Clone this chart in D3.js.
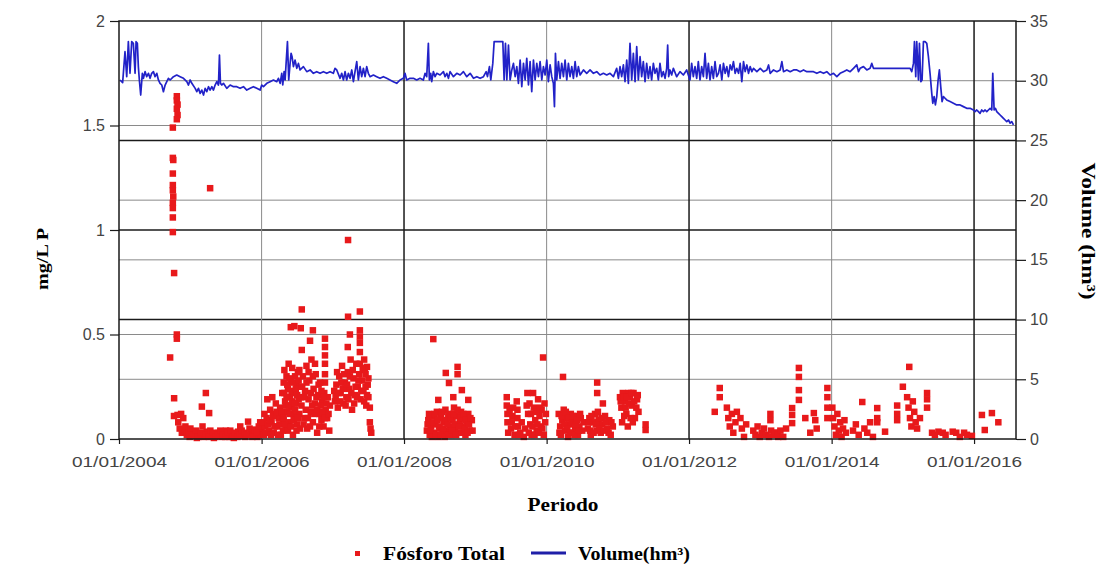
<!DOCTYPE html>
<html>
<head>
<meta charset="utf-8">
<script src="https://cdn.jsdelivr.net/npm/d3@7"></script>
<style>
  body { margin: 0; background: #fff; }
  svg { display: block; }
</style>
</head>
<body>
<svg id="chart" width="1104" height="577"></svg>
<script>
// ---- Data -------------------------------------------------------------
// Dates are stored as decimal years.
const xTickYears = [2004, 2006, 2008, 2010, 2012, 2014, 2016];
const leftTicks = [0, 0.5, 1, 1.5, 2];
const rightTicks = [0, 5, 10, 15, 20, 25, 30, 35];

// Reservoir volume (hm³)
const volume = [
  [2004.014,30.06],[2004.051,29.84],[2004.084,32.43],[2004.108,30.34],[2004.131,33.27],[2004.154,30.62],
  [2004.178,33.27],[2004.201,33.13],[2004.225,30.62],[2004.239,33.27],[2004.257,33.13],[2004.271,31.18],
  [2004.285,30.06],[2004.304,28.8],[2004.327,30.62],[2004.342,30.2],[2004.365,30.76],[2004.388,30.34],
  [2004.412,30.62],[2004.435,30.2],[2004.458,30.62],[2004.482,30.76],[2004.505,30.34],[2004.529,30.62],
  [2004.552,30.06],[2004.575,29.78],[2004.599,29.64],[2004.622,29.08],[2004.646,29.64],[2004.669,29.92],
  [2004.692,30.2],[2004.716,30.06],[2004.763,30.34],[2004.809,30.48],[2004.856,30.34],[2004.903,30.2],
  [2004.95,29.92],[2004.973,29.64],[2004.996,30.06],[2005.02,29.78],[2005.067,29.36],[2005.09,29.08],
  [2005.113,29.36],[2005.137,28.94],[2005.16,29.22],[2005.184,28.8],[2005.207,29.36],[2005.23,29.08],
  [2005.254,29.5],[2005.277,29.22],[2005.301,29.5],[2005.324,29.22],[2005.347,29.64],[2005.371,29.92],
  [2005.394,29.64],[2005.408,32.15],[2005.422,29.78],[2005.441,29.64],[2005.464,29.78],[2005.511,29.36],
  [2005.558,29.64],[2005.605,29.5],[2005.651,29.5],[2005.698,29.36],[2005.745,29.5],[2005.792,29.22],
  [2005.839,29.36],[2005.885,29.5],[2005.932,29.36],[2005.979,29.22],[2006.002,29.64],[2006.026,29.5],
  [2006.073,29.78],[2006.119,29.92],[2006.166,30.06],[2006.213,29.92],[2006.236,30.2],[2006.26,29.78],
  [2006.283,30.62],[2006.297,29.64],[2006.316,30.76],[2006.33,30.06],[2006.344,31.45],[2006.363,33.27],
  [2006.381,30.06],[2006.4,31.45],[2006.414,32.29],[2006.428,32.01],[2006.447,31.18],[2006.47,31.73],
  [2006.494,31.04],[2006.517,31.45],[2006.54,30.9],[2006.587,31.18],[2006.634,30.76],[2006.681,30.9],
  [2006.727,30.62],[2006.774,30.76],[2006.821,30.62],[2006.868,30.76],[2006.915,30.62],[2006.961,30.76],
  [2007.008,30.62],[2007.031,31.04],[2007.055,30.9],[2007.102,30.2],[2007.125,30.62],[2007.149,30.06],
  [2007.172,30.76],[2007.195,30.06],[2007.219,30.62],[2007.242,30.2],[2007.266,30.9],[2007.289,29.92],
  [2007.312,30.76],[2007.336,31.6],[2007.359,30.06],[2007.383,31.18],[2007.406,30.34],[2007.429,31.04],
  [2007.453,30.34],[2007.476,31.18],[2007.499,30.62],[2007.523,30.34],[2007.57,30.48],[2007.616,30.34],
  [2007.663,30.2],[2007.71,30.34],[2007.757,30.2],[2007.803,30.06],[2007.85,29.92],[2007.897,29.78],
  [2007.944,30.06],[2007.991,30.2],[2008.014,30.62],[2008.037,30.06],[2008.084,30.2],[2008.131,30.2],
  [2008.178,30.06],[2008.224,30.2],[2008.271,30.06],[2008.295,30.62],[2008.318,30.34],[2008.341,33.13],
  [2008.355,30.06],[2008.374,30.62],[2008.388,29.92],[2008.411,30.76],[2008.435,30.34],[2008.458,30.62],
  [2008.505,30.48],[2008.552,30.76],[2008.575,30.34],[2008.599,30.62],[2008.622,30.2],[2008.645,30.76],
  [2008.692,30.34],[2008.739,30.62],[2008.786,30.48],[2008.832,30.76],[2008.879,30.34],[2008.926,30.62],
  [2008.973,30.2],[2009.020,30.34],[2009.066,30.2],[2009.113,30.34],[2009.151,30.76],[2009.169,30.34],
  [2009.197,31.18],[2009.216,30.06],[2009.244,31.45],[2009.263,33.27],[2009.300,33.27],[2009.347,33.27],
  [2009.385,33.27],[2009.403,30.06],[2009.422,33.13],[2009.441,30.06],[2009.464,32.99],[2009.487,30.06],
  [2009.511,30.9],[2009.534,31.45],[2009.558,30.34],[2009.581,31.18],[2009.604,29.78],[2009.628,31.73],
  [2009.651,29.5],[2009.675,31.45],[2009.698,30.06],[2009.721,31.88],[2009.745,29.64],[2009.768,31.6],
  [2009.791,29.08],[2009.815,31.73],[2009.838,30.06],[2009.862,31.45],[2009.885,30.34],[2009.908,31.6],
  [2009.932,30.06],[2009.955,31.18],[2009.979,30.48],[2010.002,31.73],[2010.025,29.92],[2010.049,31.32],
  [2010.072,30.34],[2010.095,29.78],[2010.110,27.83],[2010.124,32.29],[2010.142,30.06],[2010.166,31.6],
  [2010.189,30.2],[2010.212,31.45],[2010.236,30.34],[2010.259,31.73],[2010.283,30.06],[2010.306,31.45],
  [2010.329,30.34],[2010.353,31.18],[2010.376,30.2],[2010.400,31.6],[2010.423,30.34],[2010.446,31.18],
  [2010.470,30.48],[2010.517,30.9],[2010.563,30.62],[2010.610,30.9],[2010.657,30.62],[2010.704,30.76],
  [2010.750,30.48],[2010.797,30.62],[2010.844,30.48],[2010.891,30.62],[2010.938,30.34],[2010.984,31.04],
  [2011.008,30.2],[2011.031,31.18],[2011.054,30.34],[2011.078,31.32],[2011.101,29.92],[2011.125,31.73],
  [2011.148,29.78],[2011.171,33.13],[2011.195,30.06],[2011.218,32.29],[2011.242,29.92],[2011.265,32.85],
  [2011.288,30.06],[2011.312,32.01],[2011.335,30.34],[2011.358,31.6],[2011.382,29.92],[2011.405,31.45],
  [2011.429,30.2],[2011.452,31.18],[2011.475,30.06],[2011.499,31.45],[2011.522,30.62],[2011.546,31.04],
  [2011.569,30.06],[2011.592,31.45],[2011.616,30.34],[2011.639,30.76],[2011.663,30.2],[2011.686,31.04],
  [2011.700,32.99],[2011.714,30.34],[2011.733,30.9],[2011.756,30.48],[2011.780,31.04],[2011.826,30.34],
  [2011.873,30.76],[2011.920,30.48],[2011.967,30.9],[2012.013,30.06],[2012.037,31.45],[2012.060,30.34],
  [2012.084,31.18],[2012.107,30.2],[2012.130,31.6],[2012.154,30.06],[2012.177,31.18],[2012.201,30.34],
  [2012.224,32.29],[2012.247,30.2],[2012.271,31.45],[2012.294,30.06],[2012.317,31.18],[2012.341,30.2],
  [2012.364,31.6],[2012.388,30.34],[2012.412,30.62],[2012.435,31.32],[2012.459,30.06],[2012.482,31.45],
  [2012.506,30.62],[2012.529,31.18],[2012.552,30.34],[2012.576,31.32],[2012.599,30.9],[2012.622,31.6],
  [2012.646,30.62],[2012.669,31.04],[2012.693,30.62],[2012.716,31.45],[2012.739,29.92],[2012.763,31.6],
  [2012.786,30.76],[2012.810,31.32],[2012.833,30.62],[2012.856,31.18],[2012.880,30.76],[2012.903,31.04],
  [2012.950,30.76],[2012.997,31.04],[2013.043,30.76],[2013.090,30.9],[2013.114,31.32],[2013.137,30.62],
  [2013.184,30.9],[2013.231,30.76],[2013.277,30.9],[2013.301,31.6],[2013.324,30.76],[2013.371,30.9],
  [2013.418,30.76],[2013.465,30.9],[2013.511,30.9],[2013.558,30.76],[2013.605,30.9],[2013.652,30.76],
  [2013.698,30.76],[2013.745,30.76],[2013.792,30.62],[2013.839,30.76],[2013.886,30.62],[2013.932,30.76],
  [2013.979,30.48],[2014.026,30.62],[2014.073,30.34],[2014.119,30.62],[2014.166,30.76],[2014.213,30.9],
  [2014.260,30.76],[2014.307,31.04],[2014.353,31.32],[2014.377,30.76],[2014.400,31.04],[2014.447,31.18],
  [2014.494,30.9],[2014.540,31.04],[2014.564,31.45],[2014.587,31.04],[2014.634,31.04],[2014.728,31.04],
  [2014.821,31.04],[2014.915,31.04],[2015.008,31.04],[2015.102,31.04],[2015.125,30.76],[2015.149,31.45],
  [2015.163,33.27],[2015.181,30.34],[2015.195,33.27],[2015.219,30.06],[2015.233,33.13],[2015.252,29.92],
  [2015.270,30.06],[2015.289,33.27],[2015.312,33.27],[2015.336,33.13],[2015.359,32.01],[2015.382,30.62],
  [2015.406,28.94],[2015.420,28.11],[2015.439,28.67],[2015.457,27.97],[2015.476,28.67],[2015.495,30.06],
  [2015.513,30.9],[2015.532,29.5],[2015.551,28.25],[2015.570,28.67],[2015.593,28.53],[2015.616,28.39],
  [2015.663,28.25],[2015.710,28.11],[2015.757,27.97],[2015.804,27.97],[2015.850,27.83],[2015.897,27.69],
  [2015.944,27.69],[2015.991,27.55],[2016.014,27.41],[2016.038,27.55],[2016.061,27.41],[2016.084,27.27],
  [2016.108,27.55],[2016.131,27.41],[2016.155,27.55],[2016.178,27.41],[2016.201,27.55],[2016.225,27.69],
  [2016.248,27.55],[2016.262,30.62],[2016.281,27.55],[2016.299,27.69],[2016.318,27.41],[2016.342,27.27],
  [2016.365,27.13],[2016.388,26.99],[2016.412,26.85],[2016.435,26.71],[2016.458,26.57],[2016.482,26.71],
  [2016.505,26.44],[2016.528,26.57],[2016.552,26.3]
];

// Total phosphorus samples (mg/L P)
const fosforo = [
  // 2004-2005
  [2004.81,1.64],[2004.81,1.62],[2004.82,1.60],[2004.81,1.58],[2004.82,1.55],[2004.81,1.53],[2004.754,1.49],
  [2004.754,1.345],[2004.76,1.335],[2004.754,1.27],[2004.754,1.215],[2004.754,1.19],[2004.76,1.16],
  [2004.754,1.13],[2004.754,1.105],[2004.754,1.06],[2004.754,0.99],[2004.772,0.794],[2004.81,0.50],
  [2004.81,0.48],[2004.716,0.39],[2004.772,0.195],[2004.77,0.11],[2004.82,0.115],[2004.87,0.12],
  [2004.9,0.10],[2004.83,0.08],[2004.85,0.05],[2004.88,0.03],[2005.277,1.20],[2007.214,0.952],
  [2005.217,0.22],[2005.161,0.155],[2005.263,0.124],[2005.81,0.083],[2005.70,0.06],
  [2004.92,0.04],[2004.95,0.02],[2004.99,0.01],[2005.02,0.03],[2005.06,0.015],[2005.09,0.005],
  [2005.13,0.025],[2005.19,0.01],[2005.23,0.035],[2005.3,0.02],[2005.33,0.005],[2005.37,0.015],
  [2005.4,0.03],[2005.44,0.01],[2005.47,0.02],[2005.5,0.04],[2005.54,0.01],[2005.57,0.025],
  [2005.61,0.005],[2005.64,0.02],[2005.67,0.035],[2005.74,0.015],[2005.77,0.01],[2005.85,0.03],
  [2005.88,0.045],[2005.91,0.02],[2005.94,0.01],[2005.97,0.04],[2006.0,0.05],[2005.99,0.02],
  [2004.93,0.06],[2004.97,0.03],[2005.0,0.05],[2005.04,0.02],[2005.08,0.04],[2005.11,0.01],[2005.15,0.03],
  [2005.17,0.06],[2005.21,0.02],[2005.26,0.01],[2005.28,0.04],[2005.32,0.03],[2005.35,0.01],[2005.39,0.02],
  [2005.42,0.04],[2005.46,0.02],[2005.49,0.01],[2005.52,0.03],[2005.56,0.04],[2005.59,0.01],[2005.62,0.03],
  [2005.66,0.01],[2005.69,0.02],[2005.72,0.04],[2005.76,0.03],[2005.79,0.02],[2005.83,0.05],[2005.87,0.01],
  [2005.9,0.04],[2005.93,0.03],[2005.96,0.06],[2005.98,0.08],
  // 2006-2007
  [2006.03,0.02],[2006.05,0.06],[2006.07,0.10],[2006.08,0.19],[2006.1,0.04],[2006.12,0.14],[2006.14,0.08],
  [2006.15,0.20],[2006.17,0.03],[2006.19,0.12],[2006.2,0.17],[2006.22,0.06],[2006.24,0.10],[2006.26,0.15],
  [2006.27,0.02],[2006.29,0.22],[2006.3,0.09],[2006.31,0.27],[2006.32,0.33],[2006.33,0.18],[2006.34,0.05],
  [2006.35,0.30],[2006.36,0.13],[2006.37,0.24],[2006.38,0.36],[2006.39,0.08],[2006.4,0.20],[2006.41,0.28],
  [2006.42,0.15],[2006.43,0.34],[2006.44,0.02],[2006.45,0.22],[2006.46,0.11],[2006.47,0.30],[2006.48,0.17],
  [2006.49,0.26],[2006.5,0.07],[2006.51,0.32],[2006.52,0.19],[2006.53,0.12],[2006.54,0.25],
  [2006.02,0.08],[2006.04,0.12],[2006.06,0.03],[2006.09,0.07],[2006.11,0.09],[2006.13,0.02],[2006.16,0.11],
  [2006.18,0.06],[2006.21,0.13],[2006.23,0.02],[2006.25,0.07],[2006.28,0.13],[2006.3,0.04],
  [2006.31,0.10],[2006.32,0.22],[2006.33,0.07],[2006.34,0.16],[2006.35,0.20],[2006.36,0.26],[2006.37,0.04],
  [2006.38,0.16],[2006.39,0.29],[2006.4,0.12],[2006.41,0.06],[2006.42,0.23],[2006.43,0.18],[2006.44,0.27],
  [2006.45,0.09],[2006.46,0.17],[2006.47,0.14],[2006.48,0.24],[2006.49,0.04],[2006.5,0.21],[2006.51,0.10],
  [2006.52,0.28],[2006.53,0.33],[2006.54,0.05],[2006.55,0.20],
  [2006.41,0.535],[2006.46,0.54],[2006.55,0.53],[2006.564,0.62],[2006.564,0.426],
  [2006.72,0.52],[2006.68,0.47],[2006.89,0.48],[2006.89,0.44],[2006.89,0.40],[2006.89,0.36],[2006.89,0.31],
  [2006.89,0.27],[2006.56,0.16],[2006.58,0.30],[2006.6,0.10],[2006.61,0.23],[2006.63,0.35],[2006.64,0.05],
  [2006.66,0.19],[2006.67,0.28],[2006.69,0.13],[2006.7,0.38],[2006.72,0.08],[2006.73,0.24],[2006.75,0.17],
  [2006.76,0.31],[2006.78,0.03],[2006.79,0.21],[2006.81,0.12],[2006.82,0.27],[2006.84,0.09],[2006.85,0.18],
  [2006.87,0.06],[2006.88,0.22],[2006.9,0.14],[2006.92,0.10],[2006.93,0.20],[2006.95,0.04],[2006.96,0.16],
  [2006.57,0.25],[2006.59,0.07],[2006.6,0.20],[2006.62,0.14],[2006.63,0.27],[2006.65,0.10],[2006.66,0.32],
  [2006.68,0.06],[2006.69,0.22],[2006.71,0.16],[2006.72,0.30],[2006.74,0.12],[2006.75,0.36],[2006.77,0.20],
  [2006.78,0.14],[2006.8,0.26],[2006.81,0.06],[2006.83,0.16],[2006.84,0.23],[2006.86,0.13],[2006.87,0.20],
  [2006.89,0.10],[2006.91,0.17],[2006.94,0.12],
  [2007.214,0.585],[2007.38,0.61],[2007.24,0.50],[2007.38,0.52],[2007.38,0.49],[2007.38,0.46],[2007.21,0.44],
  [2007.38,0.416],[2007.48,0.345],[2007.03,0.18],[2007.05,0.26],[2007.07,0.15],[2007.09,0.30],[2007.11,0.22],
  [2007.13,0.35],[2007.15,0.17],[2007.17,0.27],[2007.19,0.20],[2007.21,0.32],[2007.23,0.24],[2007.25,0.38],
  [2007.27,0.14],[2007.29,0.29],[2007.31,0.21],[2007.33,0.36],[2007.35,0.25],[2007.37,0.31],[2007.39,0.19],
  [2007.41,0.28],[2007.43,0.23],[2007.45,0.33],[2007.47,0.16],[2007.49,0.26],[2007.5,0.20],[2007.52,0.15],
  [2007.52,0.08],[2007.53,0.05],[2007.54,0.03],
  [2007.02,0.23],[2007.04,0.20],[2007.06,0.32],[2007.08,0.22],[2007.1,0.18],[2007.12,0.27],[2007.14,0.24],
  [2007.16,0.31],[2007.18,0.16],[2007.2,0.26],[2007.22,0.19],[2007.24,0.30],[2007.26,0.22],[2007.28,0.33],
  [2007.3,0.17],[2007.32,0.25],[2007.34,0.20],[2007.36,0.28],[2007.38,0.36],[2007.4,0.23],[2007.42,0.34],
  [2007.44,0.18],[2007.46,0.25],[2007.48,0.21],[2007.5,0.29],[2007.44,0.38],[2007.46,0.31],
  // 2008-2009
  [2008.41,0.478],[2008.585,0.316],[2008.75,0.345],[2008.75,0.31],[2008.63,0.268],[2008.81,0.234],
  [2008.69,0.20],[2008.48,0.187],[2008.9,0.187],[2008.32,0.04],[2008.34,0.09],[2008.36,0.02],[2008.38,0.06],
  [2008.4,0.11],[2008.42,0.03],[2008.44,0.07],[2008.46,0.13],[2008.48,0.01],[2008.5,0.05],[2008.52,0.10],
  [2008.54,0.03],[2008.56,0.08],[2008.58,0.14],[2008.6,0.04],[2008.62,0.12],[2008.64,0.06],[2008.66,0.02],
  [2008.68,0.09],[2008.7,0.15],[2008.72,0.05],[2008.74,0.11],[2008.76,0.03],[2008.78,0.08],[2008.8,0.13],
  [2008.82,0.06],[2008.84,0.10],[2008.86,0.02],[2008.88,0.07],[2008.9,0.12],[2008.92,0.04],[2008.95,0.09],
  [2008.33,0.07],[2008.35,0.12],[2008.37,0.04],[2008.39,0.01],[2008.41,0.08],[2008.43,0.12],[2008.45,0.02],
  [2008.47,0.09],[2008.49,0.06],[2008.51,0.02],[2008.53,0.13],[2008.55,0.05],[2008.57,0.01],[2008.59,0.09],
  [2008.61,0.07],[2008.63,0.02],[2008.65,0.10],[2008.67,0.04],[2008.69,0.12],[2008.71,0.07],[2008.73,0.02],
  [2008.75,0.14],[2008.77,0.06],[2008.79,0.10],[2008.81,0.03],[2008.83,0.12],[2008.85,0.05],[2008.87,0.09],
  [2008.89,0.03],[2008.91,0.07],[2008.93,0.10],[2008.96,0.04],
  [2009.44,0.20],[2009.44,0.16],[2009.45,0.12],[2009.45,0.08],[2009.5,0.05],[2009.52,0.11],[2009.55,0.02],
  [2009.58,0.18],[2009.59,0.14],[2009.59,0.10],[2009.6,0.06],[2009.63,0.03],[2009.65,0.08],[2009.68,0.01],
  [2009.7,0.05],[2009.73,0.22],[2009.74,0.12],[2009.76,0.17],[2009.77,0.07],[2009.79,0.02],[2009.81,0.22],
  [2009.82,0.15],[2009.84,0.09],[2009.86,0.04],[2009.88,0.19],[2009.9,0.11],[2009.92,0.06],[2009.93,0.14],
  [2009.95,0.39],[2009.96,0.02],[2009.97,0.17],[2009.98,0.08],
  [2009.46,0.03],[2009.48,0.14],[2009.51,0.08],[2009.53,0.15],[2009.56,0.06],[2009.61,0.02],[2009.72,0.16],
  [2009.75,0.03],[2009.78,0.12],[2009.8,0.06],[2009.83,0.02],[2009.85,0.13],[2009.87,0.07],[2009.89,0.03],
  [2009.91,0.15],[2009.94,0.05],[2009.99,0.12],
  // 2010-2011
  [2010.23,0.297],[2010.17,0.12],[2010.19,0.06],[2010.2,0.02],[2010.22,0.09],[2010.24,0.14],[2010.26,0.04],
  [2010.28,0.10],[2010.3,0.01],[2010.32,0.07],[2010.34,0.12],[2010.36,0.03],[2010.38,0.08],[2010.4,0.05],
  [2010.42,0.11],[2010.44,0.02],[2010.46,0.06],[2010.48,0.10],[2010.5,0.04],[2010.52,0.08],
  [2010.18,0.03],[2010.21,0.11],[2010.25,0.07],[2010.27,0.13],[2010.29,0.05],[2010.31,0.10],[2010.33,0.03],
  [2010.35,0.08],[2010.37,0.11],[2010.39,0.02],[2010.41,0.07],[2010.43,0.09],[2010.45,0.04],[2010.47,0.12],
  [2010.71,0.27],[2010.71,0.22],[2010.79,0.17],[2010.58,0.05],[2010.6,0.10],[2010.62,0.02],[2010.65,0.08],
  [2010.68,0.12],[2010.7,0.04],[2010.73,0.09],[2010.76,0.03],[2010.78,0.07],[2010.82,0.11],[2010.85,0.05],
  [2010.88,0.09],[2010.9,0.02],[2010.93,0.06],
  [2010.59,0.08],[2010.61,0.04],[2010.63,0.11],[2010.66,0.03],[2010.69,0.07],[2010.72,0.13],[2010.74,0.05],
  [2010.77,0.10],[2010.8,0.04],[2010.83,0.08],[2010.87,0.03],[2010.91,0.08],
  [2011.03,0.20],[2011.05,0.15],[2011.07,0.22],[2011.1,0.18],[2011.12,0.12],[2011.15,0.22],[2011.17,0.20],
  [2011.2,0.16],[2011.22,0.22],[2011.24,0.10],[2011.27,0.19],[2011.29,0.13],[2011.06,0.08],[2011.14,0.06],
  [2011.21,0.08],[2011.39,0.043],[2011.39,0.07],
  [2011.04,0.18],[2011.08,0.20],[2011.11,0.15],[2011.13,0.20],[2011.16,0.17],[2011.19,0.22],[2011.23,0.18],
  [2011.26,0.15],[2011.28,0.21],[2011.09,0.11],[2011.18,0.10],
  // 2012-2013
  [2012.43,0.244],[2012.43,0.20],[2012.36,0.13],[2012.53,0.15],[2012.55,0.10],[2012.57,0.06],[2012.6,0.12],
  [2012.62,0.03],[2012.65,0.08],[2012.67,0.13],[2012.72,0.10],[2012.74,0.05],[2012.77,0.01],[2012.8,0.07],
  [2012.9,0.04],[2012.93,0.02],[2012.96,0.06],[2012.99,0.01],[2013.02,0.03],[2013.05,0.05],[2013.08,0.02],
  [2013.12,0.01],[2013.15,0.04],[2013.19,0.02],[2013.22,0.03],[2013.25,0.01],[2013.14,0.12],[2013.14,0.09],
  [2013.2,0.03],[2013.24,0.02],[2013.28,0.04],[2013.32,0.01],[2013.36,0.05],
  [2013.54,0.34],[2013.54,0.297],[2013.54,0.234],[2013.54,0.187],[2013.445,0.148],[2013.445,0.115],
  [2013.445,0.076],[2013.63,0.10],[2013.75,0.124],[2013.77,0.09],[2013.79,0.05],[2013.7,0.03],
  [2013.94,0.244],[2013.94,0.20],[2013.94,0.15],[2013.94,0.10],
  // 2014-2016
  [2014.01,0.15],[2014.02,0.10],[2014.04,0.06],[2014.06,0.02],[2014.08,0.12],[2014.1,0.04],[2014.12,0.08],
  [2014.14,0.01],[2014.16,0.05],[2014.18,0.09],[2014.2,0.03],[2014.43,0.177],[2014.3,0.04],[2014.34,0.07],
  [2014.38,0.02],[2014.46,0.05],[2014.5,0.03],[2014.54,0.08],[2014.58,0.01],[2014.64,0.148],[2014.64,0.10],
  [2014.64,0.08],[2014.75,0.035],[2014.92,0.16],[2014.92,0.12],[2014.92,0.09],[2015.0,0.25],[2015.09,0.345],
  [2015.06,0.20],[2015.08,0.15],[2015.1,0.10],[2015.12,0.06],[2015.14,0.18],[2015.16,0.13],[2015.18,0.08],
  [2015.2,0.05],[2015.34,0.22],[2015.34,0.19],[2015.34,0.15],[2015.24,0.10],
  [2015.41,0.03],[2015.45,0.02],[2015.5,0.035],[2015.56,0.03],[2015.6,0.02],[2015.7,0.035],[2015.75,0.03],
  [2015.8,0.01],[2015.86,0.03],[2015.9,0.02],[2015.97,0.015],
  [2016.11,0.115],[2016.25,0.124],[2016.34,0.08],[2016.15,0.043]
];

// ---- Helpers ----------------------------------------------------------
const decYear = v => {
  const yr = Math.floor(v);
  const a = new Date(yr, 0, 1), b = new Date(yr + 1, 0, 1);
  return new Date(+a + (v - yr) * (b - a));
};

// ---- Layout -----------------------------------------------------------
const svg = d3.select("#chart");
const plot = { left: 119, right: 1016, top: 21, bottom: 439 };

const x = d3.scaleTime()
  .domain([new Date(2004, 0, 1), new Date(2016, 7, 3)])
  .range([plot.left, plot.right]);
const yP = d3.scaleLinear().domain([0, 2]).range([plot.bottom, plot.top]);
const yV = d3.scaleLinear().domain([0, 35]).range([plot.bottom, plot.top]);

const light = "#8a8a8a", dark = "#1a1a1a";

// Horizontal grid: left-axis lines and right-axis lines
const grid = svg.append("g");
[0.5, 1.5].forEach(v => grid.append("line")
  .attr("x1", plot.left).attr("x2", plot.right).attr("y1", yP(v)).attr("y2", yP(v))
  .attr("stroke", light).attr("stroke-width", 1));
[5, 15, 20, 30].forEach(v => grid.append("line")
  .attr("x1", plot.left).attr("x2", plot.right).attr("y1", yV(v)).attr("y2", yV(v))
  .attr("stroke", light).attr("stroke-width", 1));
[1].forEach(v => grid.append("line")
  .attr("x1", plot.left).attr("x2", plot.right).attr("y1", yP(v)).attr("y2", yP(v))
  .attr("stroke", dark).attr("stroke-width", 1.5));
[10, 25].forEach(v => grid.append("line")
  .attr("x1", plot.left).attr("x2", plot.right).attr("y1", yV(v)).attr("y2", yV(v))
  .attr("stroke", dark).attr("stroke-width", 1.5));

// Vertical grid at the year ticks
xTickYears.slice(1).forEach((yr, i) => {
  const px = x(new Date(yr, 0, 1));
  grid.append("line")
    .attr("x1", px).attr("x2", px).attr("y1", plot.top).attr("y2", plot.bottom)
    .attr("stroke", i % 2 === 0 ? light : dark)
    .attr("stroke-width", i % 2 === 0 ? 1 : 1.5);
});

// Phosphorus samples
const size = 6.5;
svg.append("g").selectAll("rect").data(fosforo).join("rect")
  .attr("x", d => x(decYear(d[0])) - size / 2)
  .attr("y", d => yP(d[1]) - size / 2)
  .attr("width", size).attr("height", size)
  .attr("fill", "#e8191b");

// Volume line
svg.append("path")
  .datum(volume)
  .attr("fill", "none")
  .attr("stroke", "#2222c8")
  .attr("stroke-width", 1.7)
  .attr("stroke-linejoin", "round")
  .attr("d", d3.line().x(d => x(decYear(d[0]))).y(d => yV(d[1])));

// Plot frame
svg.append("rect")
  .attr("x", plot.left).attr("y", plot.top)
  .attr("width", plot.right - plot.left).attr("height", plot.bottom - plot.top)
  .attr("fill", "none").attr("stroke", dark).attr("stroke-width", 1.5);

// ---- Axes -------------------------------------------------------------
const tickFont = "'Liberation Sans', Arial, sans-serif";

const gl = svg.append("g").attr("transform", `translate(${plot.left},0)`)
  .call(d3.axisLeft(yP).tickValues(leftTicks).tickSize(9).tickPadding(5).tickFormat(d => String(d)));
const gr = svg.append("g").attr("transform", `translate(${plot.right},0)`)
  .call(d3.axisRight(yV).tickValues(rightTicks).tickSize(10).tickPadding(4).tickFormat(d => String(d)));
const gb = svg.append("g").attr("transform", `translate(0,${plot.bottom})`)
  .call(d3.axisBottom(x).tickValues(xTickYears.map(y => new Date(y, 0, 1)))
    .tickSize(5).tickPadding(13).tickFormat(d3.timeFormat("%d/%m/%Y")));

[gl, gr, gb].forEach(g => {
  g.select(".domain").remove();
  g.selectAll(".tick line").attr("stroke", dark).attr("stroke-width", 1.2);
  g.selectAll(".tick text").attr("fill", "#444")
    .style("font-family", tickFont).style("font-size", "16px");
});
gb.selectAll(".tick text").style("font-size", "14px")
  .attr("textLength", 95).attr("lengthAdjust", "spacingAndGlyphs");

// ---- Titles -----------------------------------------------------------
const serif = "'Liberation Serif', 'Times New Roman', serif";

svg.append("text")
  .attr("transform", "translate(48,259) rotate(-90)")
  .attr("text-anchor", "middle")
  .style("font-family", serif).style("font-weight", "bold").style("font-size", "17px")
  .attr("textLength", 62).attr("lengthAdjust", "spacingAndGlyphs")
  .text("mg/L P");

svg.append("text")
  .attr("transform", "translate(1082,231) rotate(90)")
  .attr("text-anchor", "middle")
  .style("font-family", serif).style("font-weight", "bold").style("font-size", "19px")
  .attr("textLength", 137).attr("lengthAdjust", "spacingAndGlyphs")
  .text("Volume (hm³)");

svg.append("text")
  .attr("x", 563).attr("y", 511)
  .attr("text-anchor", "middle")
  .style("font-family", serif).style("font-weight", "bold").style("font-size", "18px")
  .attr("textLength", 71).attr("lengthAdjust", "spacingAndGlyphs")
  .text("Periodo");

// ---- Legend -----------------------------------------------------------
const legend = svg.append("g");
legend.append("rect")
  .attr("x", 355).attr("y", 551).attr("width", 5).attr("height", 5).attr("fill", "#e8191b");
legend.append("text")
  .attr("x", 383).attr("y", 560)
  .style("font-family", serif).style("font-weight", "bold").style("font-size", "18px")
  .attr("textLength", 122).attr("lengthAdjust", "spacingAndGlyphs")
  .text("Fósforo Total");
legend.append("line")
  .attr("x1", 531).attr("x2", 566).attr("y1", 553).attr("y2", 553)
  .attr("stroke", "#1f1fa8").attr("stroke-width", 3);
legend.append("text")
  .attr("x", 578).attr("y", 560)
  .style("font-family", serif).style("font-weight", "bold").style("font-size", "18px")
  .attr("textLength", 112).attr("lengthAdjust", "spacingAndGlyphs")
  .text("Volume(hm³)");
</script>
</body>
</html>
